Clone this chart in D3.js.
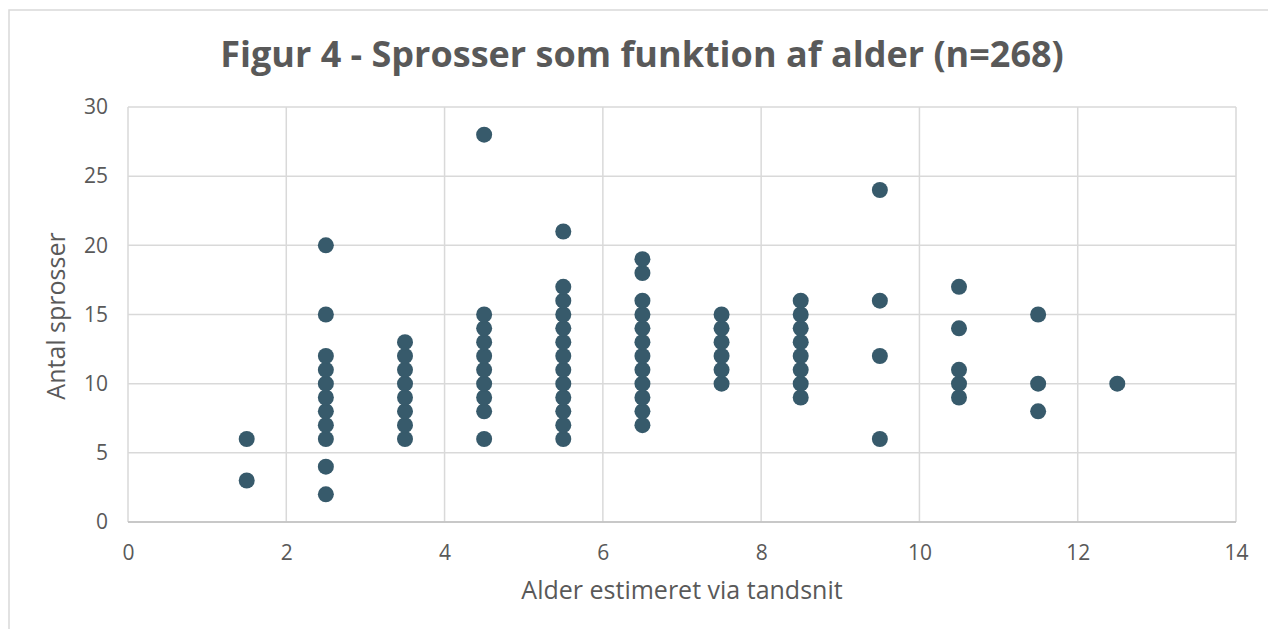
<!DOCTYPE html>
<head>
  <meta charset="utf-8">
  <script src="https://d3js.org/d3.v7.min.js"></script>
  <style>
    body { margin: 0; background: #fff; }
    text { font-family: "Open Sans", "DejaVu Sans", sans-serif; fill: #595959; }
    .grid line { stroke: #d9d9d9; stroke-width: 1.5; }
  </style>
</head>
<body>
  <div id="graph"></div>
  <script>
    // ages (x) and antal sprosser (y), one entry per visible dot
    var ages = [
      1.5, 1.5,
      2.5, 2.5, 2.5, 2.5, 2.5, 2.5, 2.5, 2.5, 2.5, 2.5, 2.5,
      3.5, 3.5, 3.5, 3.5, 3.5, 3.5, 3.5, 3.5,
      4.5, 4.5, 4.5, 4.5, 4.5, 4.5, 4.5, 4.5, 4.5, 4.5,
      5.5, 5.5, 5.5, 5.5, 5.5, 5.5, 5.5, 5.5, 5.5, 5.5, 5.5, 5.5, 5.5,
      6.5, 6.5, 6.5, 6.5, 6.5, 6.5, 6.5, 6.5, 6.5, 6.5, 6.5, 6.5,
      7.5, 7.5, 7.5, 7.5, 7.5, 7.5,
      8.5, 8.5, 8.5, 8.5, 8.5, 8.5, 8.5, 8.5,
      9.5, 9.5, 9.5, 9.5,
      10.5, 10.5, 10.5, 10.5, 10.5,
      11.5, 11.5, 11.5,
      12.5
    ];
    var sprosser = [
      3, 6,
      2, 4, 6, 7, 8, 9, 10, 11, 12, 15, 20,
      6, 7, 8, 9, 10, 11, 12, 13,
      6, 8, 9, 10, 11, 12, 13, 14, 15, 28,
      6, 7, 8, 9, 10, 11, 12, 13, 14, 15, 16, 17, 21,
      7, 8, 9, 10, 11, 12, 13, 14, 15, 16, 18, 19,
      10, 11, 12, 13, 14, 15,
      9, 10, 11, 12, 13, 14, 15, 16,
      6, 12, 16, 24,
      9, 10, 11, 14, 17,
      8, 10, 15,
      10
    ];
    var xTicks = [0, 2, 4, 6, 8, 10, 12, 14];
    var yTicks = [0, 5, 10, 15, 20, 25, 30];

    var width = 1268;
    var height = 629;
    var svg = d3.select("#graph").append("svg")
      .attr("width", width)
      .attr("height", height);

    // chart border
    svg.append("rect")
      .attr("x", 9).attr("y", 10)
      .attr("width", width + 20).attr("height", height + 20)
      .attr("fill", "none")
      .attr("stroke", "#d9d9d9")
      .attr("stroke-width", 1.5);

    var xmin = 128, xmax = 1236;
    var ymin = 107, ymax = 522;

    var x = d3.scaleLinear().domain([0, 14]).range([xmin, xmax]);
    var y = d3.scaleLinear().domain([0, 30]).range([ymax, ymin]);

    // gridlines
    var grid = svg.append("g").attr("class", "grid");
    grid.selectAll(".v").data(xTicks).enter()
      .append("line")
      .attr("x1", d => x(d)).attr("x2", d => x(d))
      .attr("y1", ymin).attr("y2", ymax);
    grid.selectAll(".h").data(yTicks).enter()
      .append("line")
      .attr("x1", xmin).attr("x2", xmax)
      .attr("y1", d => y(d)).attr("y2", d => y(d));

    // bottom axis line
    svg.append("line")
      .attr("x1", xmin).attr("x2", xmax)
      .attr("y1", ymax).attr("y2", ymax)
      .attr("stroke", "#bfbfbf").attr("stroke-width", 1.5);

    var xAxis = d3.axisBottom(x).tickValues(xTicks).tickSize(0).tickPadding(23);
    svg.append("g")
      .attr("transform", "translate(0," + ymax + ")")
      .call(xAxis)
      .call(g => g.select(".domain").remove())
      .selectAll("text").attr("font-size", 21).style("fill", "#595959");

    var yAxis = d3.axisLeft(y).tickValues(yTicks).tickSize(0).tickPadding(20);
    svg.append("g")
      .attr("transform", "translate(" + xmin + ",0)")
      .call(yAxis)
      .call(g => g.select(".domain").remove())
      .selectAll("text").attr("font-size", 21).style("fill", "#595959");

    // dots
    svg.append("g").selectAll("circle")
      .data(d3.range(ages.length)).enter()
      .append("circle")
      .attr("cx", i => x(ages[i]))
      .attr("cy", i => y(sprosser[i]))
      .attr("r", 8)
      .attr("fill", "#375a6b");

    // title and axis titles
    svg.append("text")
      .attr("x", 642).attr("y", 67)
      .attr("text-anchor", "middle")
      .attr("font-size", 36)
      .attr("font-weight", "bold")
      .text("Figur 4 - Sprosser som funktion af alder (n=268)");

    svg.append("text")
      .attr("x", 682).attr("y", 599)
      .attr("text-anchor", "middle")
      .attr("font-size", 25)
      .text("Alder estimeret via tandsnit");

    svg.append("text")
      .attr("transform", "translate(65,316) rotate(-90)")
      .attr("text-anchor", "middle")
      .attr("font-size", 25)
      .text("Antal sprosser");
  </script>
</body>
